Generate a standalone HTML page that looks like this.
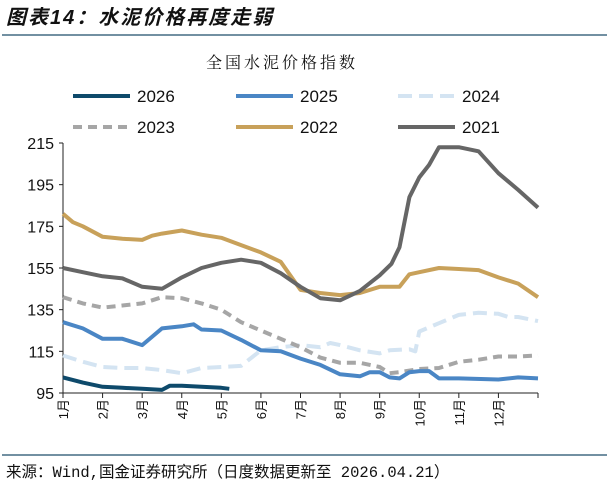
<!DOCTYPE html>
<html><head><meta charset="utf-8">
<style>
body{margin:0;background:#fff;width:607px;height:487px;overflow:hidden;font-family:"Liberation Sans","Noto Sans CJK SC",sans-serif;}
svg{display:block}
</style></head>
<body>
<svg id="chart" width="607" height="487" xmlns="http://www.w3.org/2000/svg">
  <text x="6" y="24" font-size="20" font-weight="bold" font-style="italic" letter-spacing="2" fill="#111" font-family="'Liberation Sans','Noto Sans CJK SC',sans-serif">图表14：水泥价格再度走弱</text>
  <line x1="2" y1="35" x2="607" y2="35" stroke="#1f4e6b" stroke-width="1.2"/>
  <text x="282" y="68" font-size="16" letter-spacing="3" text-anchor="middle" fill="#111" font-family="'Noto Serif CJK SC',serif">全国水泥价格指数</text>
  <g id="legend"></g>
  <g id="grid"></g>
  <g id="series"></g>
  <line x1="2" y1="455" x2="607" y2="455" stroke="#1f4e6b" stroke-width="1.2"/>
  <text x="6" y="477" font-size="15.5" fill="#111" font-family="'Liberation Mono','Noto Sans CJK SC',monospace">来源：Wind,国金证券研究所（日度数据更新至 2026.04.21）</text>
</svg>
<script>
const yTicks = [95,115,135,155,175,195,215];
const monthLabels = ["1月","2月","3月","4月","5月","6月","7月","8月","9月","10月","11月","12月"];
const seriesNames = ["2026","2025","2024","2023","2022","2021"];
const m2021 = [0,0.5,1,1.5,2,2.5,3,3.5,4,4.5,5,5.5,6,6.5,7,7.5,8,8.3,8.5,8.75,9,9.25,9.5,10,10.5,11,11.5,12];
const v2021 = [155,153,151,150,146,145,150.5,155,157.5,159,157.5,152.5,146,140.5,139.5,144,151.5,157,165,189,198.5,204.5,213,213,211,200.5,192.5,184];
const m2022 = [0,0.25,0.5,1,1.5,2,2.25,2.5,3,3.5,4,4.5,5,5.5,6,6.5,7,7.5,8,8.5,8.75,9,9.5,10,10.5,11,11.5,12];
const v2022 = [181,177,175,170,169,168.5,170.5,171.5,173,171,169.5,166,162.5,158,144.5,143,142,143,146,146,152,153,155,154.5,154,150.5,147.5,141];
const m2023 = [0,0.5,1,1.5,2,2.5,3,3.5,4,4.5,5,5.5,6,6.5,7,7.5,8,8.25,8.5,9,9.5,10,10.5,11,11.5,12];
const v2023 = [141,138,136,137,138,141,140.5,138,135,129,125,121,117,112,109.5,109.5,107.5,104.5,105,106.5,107,110,111,112.5,112.5,113];
const m2024 = [0,0.5,1,1.5,2,2.5,3,3.5,4,4.5,5,5.5,6,6.5,6.75,7,7.5,8,8.25,8.75,8.9,9,9.5,10,10.5,11,11.25,11.5,12];
const v2024 = [113,110,107.5,107,107,106,104.5,107,107.5,108,115.5,117,118,117,119,118,115.5,114,115.5,116,115,124.5,128.5,132.5,133.5,133,131.5,131.5,129.5];
const m2025 = [0,0.5,1,1.5,2,2.5,3,3.3,3.5,4,4.5,5,5.5,6,6.5,7,7.5,7.75,8,8.25,8.5,8.75,9,9.25,9.5,10,11,11.5,12];
const v2025 = [129,126,121,121,118,126,127,128,125.5,125,120.5,115.5,115,111.5,108.5,104,103,105,105,102.5,102,105,105.5,105.5,102,102,101.5,102.5,102];
const m2026 = [0,0.5,1,1.5,2,2.5,2.7,3,3.5,4,4.2];
const v2026 = [102.5,100,98,97.5,97,96.5,98.5,98.5,98,97.5,97];

const X0=63, X1=538, Y0=393, Y1=143;
const xs = m => X0 + m*(X1-X0)/12;
const ys = v => Y0 - (v-95)*(Y0-Y1)/120;
const NS="http://www.w3.org/2000/svg";
function mk(tag, attrs, parent){const e=document.createElementNS(NS,tag);for(const k in attrs)e.setAttribute(k,attrs[k]);parent.appendChild(e);return e;}
const grid=document.getElementById('grid'), ser=document.getElementById('series'), leg=document.getElementById('legend');

let ax = mk('line',{x1:X0,y1:Y1,x2:X0,y2:Y0,stroke:'#222','stroke-width':1},grid);


let bx = mk('line',{x1:X0,y1:Y0,x2:X1,y2:Y0,stroke:'#222','stroke-width':1},grid);


yTicks.forEach(t=>{
  const tk=mk('line',{x1:X0-4,y1:ys(t),x2:X0,y2:ys(t),stroke:'#222'},grid);
  
  
  const tx=mk('text',{x:X0-9,y:ys(t)+6,'font-size':16,'text-anchor':'end',fill:'#111'},grid);
  tx.textContent=t;
  
  
});
for(let i=0;i<=12;i++){
  const tk=mk('line',{x1:xs(i),y1:Y0,x2:xs(i),y2:Y0+5,stroke:'#222'},grid);
  
  
}
monthLabels.forEach((l,i)=>{
  const x=xs(i), y=399;
  const tx=mk('text',{x:x,y:y,'font-size':13,'text-anchor':'end',fill:'#111',transform:`rotate(-90 ${x} ${y}) translate(0 5)`},grid);
  tx.textContent=l;
  
  
});

const styles = {
  "2026":{c:'#0e4a6b',d:null,m:m2026,v:v2026},
  "2025":{c:'#4a86c5',d:null,m:m2025,v:v2025},
  "2024":{c:'#d4e4f2',d:'14 7',m:m2024,v:v2024},
  "2023":{c:'#a6a6a6',d:'9 6',m:m2023,v:v2023},
  "2022":{c:'#c8a15a',d:null,m:m2022,v:v2022},
  "2021":{c:'#666666',d:null,m:m2021,v:v2021}
};
["2024","2023","2022","2021","2025","2026"].forEach(n=>{
  const s=styles[n];
  const pts=s.m.map((m,i)=>xs(m).toFixed(1)+','+ys(s.v[i]).toFixed(1)).join(' ');
  const a={points:pts,fill:'none',stroke:s.c,'stroke-width':4,'stroke-linejoin':'round'};
  if(s.d)a['stroke-dasharray']=s.d;
  const p=mk('polyline',a,ser);
  
  
});

const lx=[73,236,398], ly=[96,127];
seriesNames.forEach((n,i)=>{
  const s=styles[n], x=lx[i%3], y=ly[Math.floor(i/3)];
  const a={x1:x,y1:y,x2:x+57,y2:y,stroke:s.c,'stroke-width':4};
  if(s.d)a['stroke-dasharray']=s.d;
  const l=mk('line',a,leg);
  
  
  const t=mk('text',{x:x+64,y:y+6,'font-size':17,fill:'#111'},leg);
  t.textContent=n;
  
  
});
</script>
</body></html>
